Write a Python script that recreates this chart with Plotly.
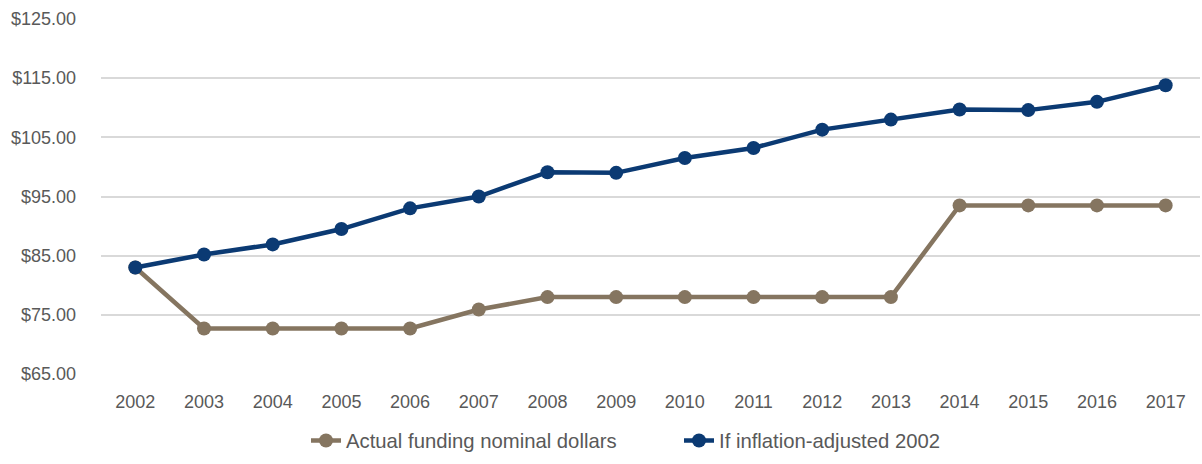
import plotly.graph_objects as go

years = [str(y) for y in range(2002, 2018)]
actual_nominal = [83.0, 72.7, 72.7, 72.7, 72.7, 75.9, 78.0, 78.0, 78.0, 78.0, 78.0, 78.0, 93.5, 93.5, 93.5, 93.5]
inflation_adjusted = [83.0, 85.2, 86.9, 89.5, 93.0, 95.0, 99.1, 99.0, 101.5, 103.2, 106.3, 108.0, 109.7, 109.6, 111.0, 113.8]
y_ticks = [65, 75, 85, 95, 105, 115, 125]
y_tick_labels = ["$%.2f" % v for v in y_ticks]

BROWN = "#857560"
NAVY = "#0b3a73"
FONT = "Liberation Sans, Arial, sans-serif"

fig = go.Figure()
fig.add_trace(go.Scatter(
    x=years, y=actual_nominal, mode="lines+markers",
    name="Actual funding nominal dollars",
    line=dict(color=BROWN, width=4.5),
    marker=dict(color=BROWN, size=14),
))
fig.add_trace(go.Scatter(
    x=years, y=inflation_adjusted, mode="lines+markers",
    name="If inflation-adjusted 2002",
    line=dict(color=NAVY, width=4.5),
    marker=dict(color=NAVY, size=14),
))

fig.update_layout(
    width=1202, height=464,
    margin=dict(l=101, r=2, t=19, b=90, autoexpand=False),
    paper_bgcolor="white", plot_bgcolor="white",
    font=dict(family=FONT, size=18, color="#595959"),
    showlegend=True,
    legend=dict(
        orientation="h", xref="container", yref="container",
        x=306 / 1202, xanchor="left", y=0.05, yanchor="middle",
        font=dict(family=FONT, size=20.3, color="#595959"),
        tracegroupgap=0, entrywidth=328, entrywidthmode="pixels",
    ),
    xaxis=dict(
        type="category", range=[-0.5, len(years) - 0.5],
        showgrid=False, zeroline=False, showline=False,
        ticks="", tickfont=dict(size=18), ticklabelstandoff=15,
        automargin=False,
    ),
    yaxis=dict(
        range=[65, 125], tickvals=y_ticks, ticktext=y_tick_labels,
        showgrid=True, gridcolor="#d9d9d9", gridwidth=1.5,
        zeroline=False, showline=False, ticks="",
        tickfont=dict(size=18), ticklabelstandoff=24,
        automargin=False,
    ),
)

fig.write_html("out.html")
